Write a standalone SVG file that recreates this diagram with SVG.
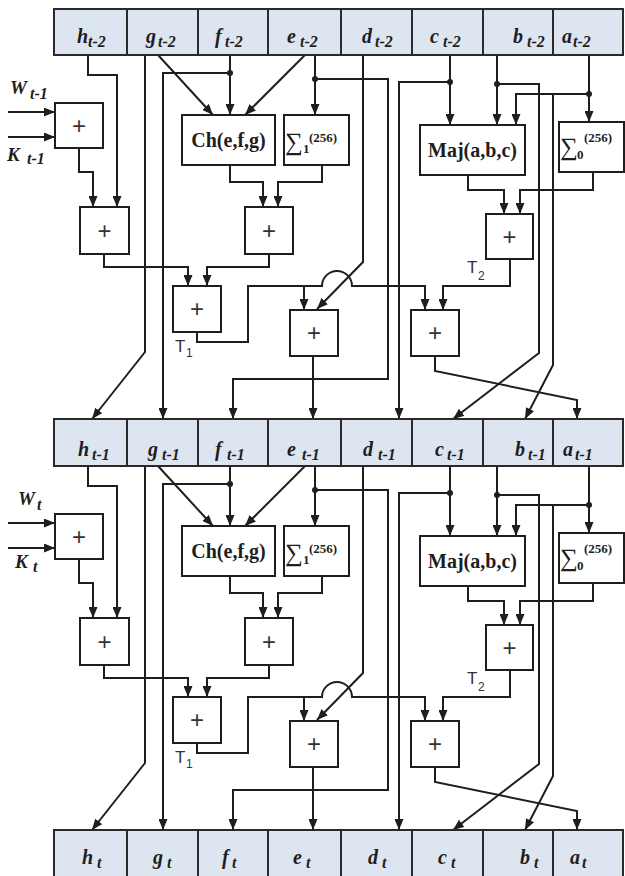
<svg xmlns="http://www.w3.org/2000/svg" width="625" height="876" viewBox="0 0 625 876">
<defs>
<marker id="ah" viewBox="0 0 11 9" refX="11" refY="4.5" markerWidth="11" markerHeight="9" markerUnits="userSpaceOnUse" orient="auto"><path d="M0,0 L11,4.5 L0,9 z" fill="#1e1e1e"/></marker>
</defs>
<style>
.cell{fill:#dde5f0;stroke:#2a2a2a;stroke-width:2}
.box{fill:#fff;stroke:#1e1e1e;stroke-width:2}
.w{fill:none;stroke:#1e1e1e;stroke-width:2}
.a{marker-end:url(#ah)}
.reg{font-family:"Liberation Serif",serif;font-weight:bold;font-style:italic;font-size:20px;fill:#1e1e1e}
.wk{font-size:19px}
.rs{font-size:16px}
.fn{font-family:"Liberation Serif",serif;font-weight:bold;font-size:20px;fill:#1e1e1e;text-anchor:middle}
.plus{font-family:"Liberation Sans",sans-serif;font-size:24px;fill:#333;text-anchor:middle}
.tl{font-family:"Liberation Sans",sans-serif;font-size:17px;fill:#333}
.ts{font-size:12px}
.sig{font-family:"Liberation Serif",serif;font-size:25px;fill:#1e1e1e}
.sb{font-family:"Liberation Serif",serif;font-weight:bold;font-size:13px;fill:#1e1e1e}
.dot{fill:#1e1e1e}
</style>

<g id="connectors">
<g id="conn-stage1">
<polyline class="w a" points="88,55 88,75 117,75 117,207"/>
<polyline class="w a" points="8,112 55,112"/>
<polyline class="w a" points="8,137 55,137"/>
<polyline class="w a" points="79,148 79,172 93,172 93,207"/>
<polyline class="w a" points="145,55 145,352 92,419"/>
<polyline class="w a" points="158,55 213,115"/>
<polyline class="w a" points="230,55 230,115"/>
<polyline class="w a" points="230,73 163,73 163,419"/>
<polyline class="w a" points="305,55 245,115"/>
<polyline class="w a" points="315,55 315,115"/>
<polyline class="w a" points="315,79 388,79 388,379 233,379 233,419"/>
<polyline class="w a" points="230,165 230,182 263,182 263,207"/>
<polyline class="w a" points="322,165 322,182 278,182 278,207"/>
<polyline class="w a" points="104,254 104,267 188,267 188,286"/>
<polyline class="w a" points="269,254 269,267 207,267 207,286"/>
<polyline class="w" points="197,332 197,342 248,342 248,286 304,286"/>
<polyline class="w a" points="304,286 304,310"/>
<path class="w a" d="M304,286 H322 A15,15 0 0 1 352,286 H425 V310"/>
<polyline class="w a" points="363,55 363,262 317,309"/>
<polyline class="w a" points="313,356 313,419"/>
<polyline class="w a" points="450,55 450,125"/>
<polyline class="w a" points="450,82 399,82 399,419"/>
<polyline class="w a" points="497,55 497,125"/>
<polyline class="w a" points="497,84 539,84 539,353 453,419"/>
<polyline class="w a" points="589,55 589,122"/>
<polyline class="w a" points="589,94 516,94 516,125"/>
<polyline class="w a" points="553,94 553,365 525,419"/>
<polyline class="w a" points="468,175 468,190 504,190 504,214"/>
<polyline class="w a" points="593,172 593,190 520,190 520,214"/>
<polyline class="w a" points="510,259 510,286 443,286 443,310"/>
<polyline class="w a" points="435,356 435,371 577,400 577,419"/>
<circle class="dot" cx="230" cy="73" r="3"/>
<circle class="dot" cx="315" cy="79" r="3"/>
<circle class="dot" cx="450" cy="82" r="3"/>
<circle class="dot" cx="497" cy="84" r="3"/>
<circle class="dot" cx="589" cy="94" r="3"/>
</g>
<g id="conn-stage2" transform="translate(0,411)">
<polyline class="w a" points="88,55 88,75 117,75 117,207"/>
<polyline class="w a" points="8,112 55,112"/>
<polyline class="w a" points="8,137 55,137"/>
<polyline class="w a" points="79,148 79,172 93,172 93,207"/>
<polyline class="w a" points="145,55 145,352 92,419"/>
<polyline class="w a" points="158,55 213,115"/>
<polyline class="w a" points="230,55 230,115"/>
<polyline class="w a" points="230,73 163,73 163,419"/>
<polyline class="w a" points="305,55 245,115"/>
<polyline class="w a" points="315,55 315,115"/>
<polyline class="w a" points="315,79 388,79 388,379 233,379 233,419"/>
<polyline class="w a" points="230,165 230,182 263,182 263,207"/>
<polyline class="w a" points="322,165 322,182 278,182 278,207"/>
<polyline class="w a" points="104,254 104,267 188,267 188,286"/>
<polyline class="w a" points="269,254 269,267 207,267 207,286"/>
<polyline class="w" points="197,332 197,342 248,342 248,286 304,286"/>
<polyline class="w a" points="304,286 304,310"/>
<path class="w a" d="M304,286 H322 A15,15 0 0 1 352,286 H425 V310"/>
<polyline class="w a" points="363,55 363,262 317,309"/>
<polyline class="w a" points="313,356 313,419"/>
<polyline class="w a" points="450,55 450,125"/>
<polyline class="w a" points="450,82 399,82 399,419"/>
<polyline class="w a" points="497,55 497,125"/>
<polyline class="w a" points="497,84 539,84 539,353 453,419"/>
<polyline class="w a" points="589,55 589,122"/>
<polyline class="w a" points="589,94 516,94 516,125"/>
<polyline class="w a" points="553,94 553,365 525,419"/>
<polyline class="w a" points="468,175 468,190 504,190 504,214"/>
<polyline class="w a" points="593,172 593,190 520,190 520,214"/>
<polyline class="w a" points="510,259 510,286 443,286 443,310"/>
<polyline class="w a" points="435,356 435,371 577,400 577,419"/>
<circle class="dot" cx="230" cy="73" r="3"/>
<circle class="dot" cx="315" cy="79" r="3"/>
<circle class="dot" cx="450" cy="82" r="3"/>
<circle class="dot" cx="497" cy="84" r="3"/>
<circle class="dot" cx="589" cy="94" r="3"/>
</g>
</g>

<g id="reg-top">
<g id="h_t-2"><rect class="cell" x="54" y="9" width="73" height="46"/><text class="reg"><tspan x="77" y="43">h</tspan><tspan class="rs" x="88" y="47">t-2</tspan></text></g>
<g id="g_t-2"><rect class="cell" x="127" y="9" width="71" height="46"/><text class="reg"><tspan x="146" y="43">g</tspan><tspan class="rs" x="158" y="47">t-2</tspan></text></g>
<g id="f_t-2"><rect class="cell" x="198" y="9" width="70" height="46"/><text class="reg"><tspan x="215" y="43">f</tspan><tspan class="rs" x="225" y="47">t-2</tspan></text></g>
<g id="e_t-2"><rect class="cell" x="268" y="9" width="73" height="46"/><text class="reg"><tspan x="287" y="43">e</tspan><tspan class="rs" x="300" y="47">t-2</tspan></text></g>
<g id="d_t-2"><rect class="cell" x="341" y="9" width="71" height="46"/><text class="reg"><tspan x="362" y="43">d</tspan><tspan class="rs" x="375" y="47">t-2</tspan></text></g>
<g id="c_t-2"><rect class="cell" x="412" y="9" width="71" height="46"/><text class="reg"><tspan x="430" y="43">c</tspan><tspan class="rs" x="443" y="47">t-2</tspan></text></g>
<g id="b_t-2"><rect class="cell" x="483" y="9" width="70" height="46"/><text class="reg"><tspan x="513" y="43">b</tspan><tspan class="rs" x="527" y="47">t-2</tspan></text></g>
<g id="a_t-2"><rect class="cell" x="553" y="9" width="70" height="46"/><text class="reg"><tspan x="562" y="43">a</tspan><tspan class="rs" x="573" y="47">t-2</tspan></text></g>
</g>

<g id="reg-mid">
<g id="h_t-1"><rect class="cell" x="54" y="419" width="73" height="47"/><text class="reg"><tspan x="78" y="456">h</tspan><tspan class="rs" x="92" y="460">t-1</tspan></text></g>
<g id="g_t-1"><rect class="cell" x="127" y="419" width="71" height="47"/><text class="reg"><tspan x="148" y="456">g</tspan><tspan class="rs" x="162" y="460">t-1</tspan></text></g>
<g id="f_t-1"><rect class="cell" x="198" y="419" width="70" height="47"/><text class="reg"><tspan x="215" y="456">f</tspan><tspan class="rs" x="227" y="460">t-1</tspan></text></g>
<g id="e_t-1"><rect class="cell" x="268" y="419" width="73" height="47"/><text class="reg"><tspan x="287" y="456">e</tspan><tspan class="rs" x="302" y="460">t-1</tspan></text></g>
<g id="d_t-1"><rect class="cell" x="341" y="419" width="71" height="47"/><text class="reg"><tspan x="363" y="456">d</tspan><tspan class="rs" x="378" y="460">t-1</tspan></text></g>
<g id="c_t-1"><rect class="cell" x="412" y="419" width="71" height="47"/><text class="reg"><tspan x="435" y="456">c</tspan><tspan class="rs" x="447" y="460">t-1</tspan></text></g>
<g id="b_t-1"><rect class="cell" x="483" y="419" width="70" height="47"/><text class="reg"><tspan x="515" y="456">b</tspan><tspan class="rs" x="528" y="460">t-1</tspan></text></g>
<g id="a_t-1"><rect class="cell" x="553" y="419" width="70" height="47"/><text class="reg"><tspan x="563" y="456">a</tspan><tspan class="rs" x="575" y="460">t-1</tspan></text></g>
</g>

<g id="reg-bot">
<g id="h_t"><rect class="cell" x="54" y="830" width="73" height="50"/><text class="reg"><tspan x="82" y="864">h</tspan><tspan class="rs" x="97" y="868">t</tspan></text></g>
<g id="g_t"><rect class="cell" x="127" y="830" width="71" height="50"/><text class="reg"><tspan x="153" y="864">g</tspan><tspan class="rs" x="167" y="868">t</tspan></text></g>
<g id="f_t"><rect class="cell" x="198" y="830" width="70" height="50"/><text class="reg"><tspan x="222" y="864">f</tspan><tspan class="rs" x="232" y="868">t</tspan></text></g>
<g id="e_t"><rect class="cell" x="268" y="830" width="73" height="50"/><text class="reg"><tspan x="293" y="864">e</tspan><tspan class="rs" x="306" y="868">t</tspan></text></g>
<g id="d_t"><rect class="cell" x="341" y="830" width="71" height="50"/><text class="reg"><tspan x="368" y="864">d</tspan><tspan class="rs" x="382" y="868">t</tspan></text></g>
<g id="c_t"><rect class="cell" x="412" y="830" width="71" height="50"/><text class="reg"><tspan x="438" y="864">c</tspan><tspan class="rs" x="451" y="868">t</tspan></text></g>
<g id="b_t"><rect class="cell" x="483" y="830" width="70" height="50"/><text class="reg"><tspan x="520" y="864">b</tspan><tspan class="rs" x="534" y="868">t</tspan></text></g>
<g id="a_t"><rect class="cell" x="553" y="830" width="70" height="50"/><text class="reg"><tspan x="570" y="864">a</tspan><tspan class="rs" x="582" y="868">t</tspan></text></g>
</g>

<g id="inputs1">
<text class="reg wk"><tspan x="10" y="94">W</tspan><tspan class="rs" x="30" y="99">t-1</tspan></text>
<text class="reg wk"><tspan x="7" y="161">K</tspan><tspan class="rs" x="27" y="164">t-1</tspan></text>
</g>
<g id="inputs2">
<text class="reg wk"><tspan x="18" y="505">W</tspan><tspan class="rs" x="37" y="510">t</tspan></text>
<text class="reg wk"><tspan x="15" y="568">K</tspan><tspan class="rs" x="33" y="572">t</tspan></text>
</g>

<g id="stage1">
<g id="add-wk1"><rect class="box" x="55" y="103" width="48" height="45"/><text class="plus" x="79" y="134">+</text></g>
<g id="add-h1"><rect class="box" x="80" y="207" width="49" height="47"/><text class="plus" x="104.5" y="239">+</text></g>
<g id="ch1"><rect class="box" x="182" y="115" width="93" height="50"/><text class="fn" x="228.5" y="147">Ch(e,f,g)</text></g>
<g id="sig1-1"><rect class="box" x="284" y="115" width="65" height="50"/><text class="sig" x="285" y="150">∑</text><text class="sb" x="303" y="153">1</text><text class="sb" x="309" y="142">(256)</text></g>
<g id="add-ch1"><rect class="box" x="245" y="207" width="48" height="47"/><text class="plus" x="269" y="239">+</text></g>
<g id="add-t1-1"><rect class="box" x="173" y="286" width="48" height="46"/><text class="plus" x="197" y="317">+</text></g>
<g id="lbl-t1-1"><text class="tl"><tspan x="175" y="352">T</tspan><tspan class="ts" x="186" y="357">1</tspan></text></g>
<g id="add-e1"><rect class="box" x="290" y="310" width="48" height="46"/><text class="plus" x="314" y="341">+</text></g>
<g id="maj1"><rect class="box" x="420" y="125" width="105" height="50"/><text class="fn" x="472.5" y="157">Maj(a,b,c)</text></g>
<g id="sig0-1"><rect class="box" x="559" y="122" width="65" height="50"/><text class="sig" x="560" y="155">∑</text><text class="sb" x="577" y="159">0</text><text class="sb" x="584" y="142">(256)</text></g>
<g id="add-t2-1"><rect class="box" x="486" y="214" width="47" height="45"/><text class="plus" x="509.5" y="245">+</text></g>
<g id="lbl-t2-1"><text class="tl"><tspan x="467" y="273">T</tspan><tspan class="ts" x="478" y="280">2</tspan></text></g>
<g id="add-a1"><rect class="box" x="411" y="310" width="48" height="46"/><text class="plus" x="435" y="341">+</text></g>
</g>

<g id="stage2" transform="translate(0,411)">
<g id="add-wk2"><rect class="box" x="55" y="103" width="48" height="45"/><text class="plus" x="79" y="134">+</text></g>
<g id="add-h2"><rect class="box" x="80" y="207" width="49" height="47"/><text class="plus" x="104.5" y="239">+</text></g>
<g id="ch2"><rect class="box" x="182" y="115" width="93" height="50"/><text class="fn" x="228.5" y="147">Ch(e,f,g)</text></g>
<g id="sig1-2"><rect class="box" x="284" y="115" width="65" height="50"/><text class="sig" x="285" y="150">∑</text><text class="sb" x="303" y="153">1</text><text class="sb" x="309" y="142">(256)</text></g>
<g id="add-ch2"><rect class="box" x="245" y="207" width="48" height="47"/><text class="plus" x="269" y="239">+</text></g>
<g id="add-t1-2"><rect class="box" x="173" y="286" width="48" height="46"/><text class="plus" x="197" y="317">+</text></g>
<g id="lbl-t1-2"><text class="tl"><tspan x="175" y="352">T</tspan><tspan class="ts" x="186" y="357">1</tspan></text></g>
<g id="add-e2"><rect class="box" x="290" y="310" width="48" height="46"/><text class="plus" x="314" y="341">+</text></g>
<g id="maj2"><rect class="box" x="420" y="125" width="105" height="50"/><text class="fn" x="472.5" y="157">Maj(a,b,c)</text></g>
<g id="sig0-2"><rect class="box" x="559" y="122" width="65" height="50"/><text class="sig" x="560" y="155">∑</text><text class="sb" x="577" y="159">0</text><text class="sb" x="584" y="142">(256)</text></g>
<g id="add-t2-2"><rect class="box" x="486" y="214" width="47" height="45"/><text class="plus" x="509.5" y="245">+</text></g>
<g id="lbl-t2-2"><text class="tl"><tspan x="467" y="273">T</tspan><tspan class="ts" x="478" y="280">2</tspan></text></g>
<g id="add-a2"><rect class="box" x="411" y="310" width="48" height="46"/><text class="plus" x="435" y="341">+</text></g>
</g>
</svg>
